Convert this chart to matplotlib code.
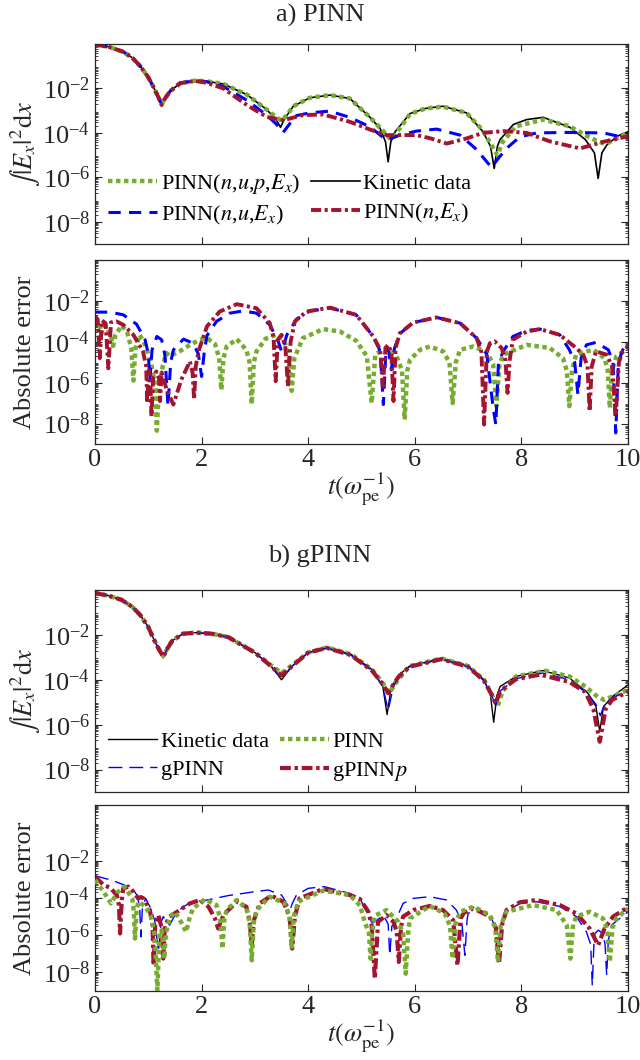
import numpy as np
import matplotlib.pyplot as plt
from matplotlib.ticker import FixedLocator, LogLocator, NullFormatter, LogFormatterMathtext

plt.rcParams['font.family'] = 'serif'
plt.rcParams['font.serif'] = ['Liberation Serif', 'DejaVu Serif']
plt.rcParams['mathtext.fontset'] = 'stix'

# values are log10 of the plotted quantity
# ---- a) PINN, field energy
t_kin_a = [0, 0.25, 0.53, 0.7, 0.85, 1.0, 1.1, 1.2, 1.25, 1.3, 1.41, 1.6, 1.88, 2.1, 2.41, 2.85, 3.22, 3.4, 3.48,
           3.56, 3.72, 4.03, 4.41, 4.78, 5.16, 5.35, 5.45, 5.5, 5.55, 5.63, 5.91, 6.2, 6.53, 6.97, 7.28, 7.42, 7.49,
           7.55, 7.6, 7.85, 8.1, 8.41, 8.91, 9.2, 9.37, 9.44, 9.51, 9.6, 9.8, 10]
kin_a = [-0.03, -0.12, -0.35, -0.62, -1.0, -1.5, -1.95, -2.45, -2.75, -2.5, -2.12, -1.76, -1.65, -1.68, -1.8, -2.28,
         -2.95, -3.4, -3.75, -3.35, -2.8, -2.42, -2.3, -2.45, -3.3, -3.8, -4.4, -5.3, -4.4, -3.95, -3.13, -2.9, -2.8,
         -3.1, -3.95, -4.6, -5.6, -4.6, -4.3, -3.62, -3.4, -3.3, -3.75, -4.3, -4.9, -6.05, -4.9, -4.55, -4.15, -3.95]

t_nupe_a = [0, 0.25, 0.53, 0.7, 0.85, 1.0, 1.1, 1.2, 1.25, 1.3, 1.41, 1.6, 1.88, 2.1, 2.41, 2.85, 3.22, 3.4, 3.5,
            3.6, 3.72, 4.03, 4.41, 4.78, 5.16, 5.4, 5.55, 5.7, 5.91, 6.2, 6.53, 6.97, 7.28, 7.45, 7.55, 7.65, 7.9,
            8.41, 8.9, 9.2, 9.45, 9.58, 9.75, 10]
nupe_a = [-0.03, -0.12, -0.35, -0.62, -1.0, -1.5, -1.95, -2.45, -2.72, -2.5, -2.12, -1.76, -1.65, -1.68, -1.8, -2.28,
          -2.95, -3.3, -3.45, -3.2, -2.8, -2.42, -2.3, -2.45, -3.3, -3.9, -4.3, -3.85, -3.15, -2.9, -2.82, -3.1,
          -3.9, -4.6, -5.0, -4.4, -3.7, -3.4, -3.7, -4.1, -4.4, -4.5, -4.3, -4.0]

t_nue_a = [0, 0.25, 0.53, 0.7, 0.85, 1.0, 1.1, 1.2, 1.25, 1.3, 1.41, 1.6, 1.88, 2.1, 2.41, 2.85, 3.22, 3.4, 3.53,
           3.65, 3.78, 4.03, 4.4, 4.78, 5.16, 5.47, 5.72, 6.03, 6.41, 6.85, 7.16, 7.35, 7.44, 7.55, 7.72, 7.97,
           8.29, 8.85, 9.54, 10]
nue_a = [-0.03, -0.12, -0.35, -0.62, -1.0, -1.5, -1.95, -2.45, -2.75, -2.5, -2.12, -1.76, -1.65, -1.7, -1.92,
         -2.53, -3.2, -3.6, -3.98, -3.6, -3.22, -3.1, -3.02, -3.3, -3.73, -4.33, -4.1, -3.92, -3.83, -4.1, -4.75,
         -5.3, -5.55, -5.2, -4.7, -4.18, -4.0, -3.98, -4.0, -4.25]

t_ne_a = [0, 0.25, 0.53, 0.7, 0.85, 1.0, 1.1, 1.2, 1.25, 1.3, 1.41, 1.6, 1.88, 2.1, 2.41, 2.85, 3.22, 3.53, 3.9,
          4.28, 4.78, 5.16, 5.47, 6.03, 6.3, 6.6, 6.97, 7.28, 7.66, 8.1, 8.53, 9.1, 9.54, 10]
ne_a = [-0.03, -0.12, -0.35, -0.62, -1.0, -1.5, -1.95, -2.45, -2.75, -2.5, -2.12, -1.76, -1.66, -1.75, -2.0,
        -2.75, -3.28, -3.43, -3.2, -3.17, -3.5, -3.85, -4.1, -4.1, -4.25, -4.48, -4.25, -4.0, -3.92, -4.0, -4.38,
        -4.7, -4.4, -4.15]

# ---- a) PINN, absolute error
t_err_nupe_a = [0, 0.08, 0.12, 0.16, 0.22, 0.3, 0.34, 0.38, 0.5, 0.6, 0.68, 0.72, 0.76, 0.84, 0.95, 1.05, 1.12,
                1.16, 1.2, 1.27, 1.34, 1.4, 1.6, 1.78, 1.97, 2.1, 2.25, 2.33, 2.37, 2.41, 2.47, 2.66, 2.84, 2.9,
                2.94, 2.98, 3.03, 3.2, 3.41, 3.55, 3.64, 3.69, 3.74, 3.9, 4.28, 4.6, 4.9, 5.1, 5.19, 5.26, 5.47,
                5.66, 5.76, 5.81, 5.86, 5.91, 6.1, 6.28, 6.53, 6.65, 6.71, 6.77, 6.85, 7.1, 7.35, 7.47, 7.53, 7.59,
                7.66, 8.1, 8.53, 8.78, 8.85, 8.9, 8.95, 9.03, 9.35, 9.56, 9.62, 9.66, 9.7, 9.78, 10]
err_nupe_a = [-2.85, -3.1, -3.6, -3.2, -3.3, -3.75, -4.2, -3.7, -3.2, -3.5, -4.3, -5.9, -4.3, -3.66, -4.2, -5.0,
              -6.0, -8.35, -6.2, -5.2, -4.55, -4.7, -4.45, -4.15, -3.9, -3.82, -4.1, -4.8, -6.35, -4.8, -4.23,
              -3.87, -4.4, -5.0, -7.05, -5.0, -4.47, -3.85, -3.65, -3.9, -4.8, -6.4, -4.8, -3.82, -3.38, -3.5,
              -3.95, -4.7, -7.0, -4.6, -4.31, -4.72, -5.4, -7.8, -5.4, -4.88, -4.39, -4.23, -4.47, -5.0, -7.0,
              -5.0, -4.39, -4.23, -4.5, -5.1, -7.15, -5.1, -4.63, -4.15, -4.3, -4.8, -5.4, -7.15, -5.4, -4.6,
              -4.39, -4.8, -5.4, -7.24, -5.4, -4.72, -4.31]

t_err_nue_a = [0, 0.28, 0.53, 0.78, 0.94, 1.0, 1.03, 1.07, 1.16, 1.25, 1.31, 1.37, 1.42, 1.47, 1.66, 1.84, 1.94,
               2.0, 2.05, 2.1, 2.28, 2.53, 2.78, 3.03, 3.28, 3.44, 3.5, 3.56, 3.6, 3.78, 4.03, 4.41, 4.9, 5.22,
               5.35, 5.41, 5.46, 5.5, 5.56, 5.62, 5.72, 5.97, 6.41, 6.85, 7.16, 7.35, 7.47, 7.52, 7.57, 7.66,
               7.84, 8.1, 8.35, 8.72, 8.9, 9.0, 9.06, 9.12, 9.22, 9.4, 9.63, 9.72, 9.77, 9.82, 9.9, 10]
err_nue_a = [-2.55, -2.55, -2.68, -3.14, -3.9, -4.6, -5.85, -4.4, -3.74, -3.9, -4.63, -7.15, -5.0, -4.4, -3.87,
             -4.07, -4.6, -5.7, -4.5, -3.7, -3.0, -2.6, -2.49, -2.6, -3.17, -4.0, -4.47, -4.0, -3.66, -2.9, -2.5,
             -2.35, -2.68, -3.74, -4.45, -7.07, -4.4, -4.3, -5.37, -4.3, -3.6, -3.06, -2.81, -3.09, -3.82, -4.6,
             -7.24, -8.05, -5.0, -4.47, -3.74, -3.45, -3.38, -3.66, -4.39, -5.0, -6.59, -4.8, -4.15, -4.03, -4.39,
             -5.0, -8.46, -5.0, -4.4, -4.0]

t_err_ne_a = [0, 0.05, 0.09, 0.13, 0.2, 0.25, 0.3, 0.4, 0.53, 0.72, 0.9, 0.96, 0.98, 1.01, 1.04, 1.06, 1.09,
              1.15, 1.2, 1.22, 1.25, 1.34, 1.47, 1.62, 1.78, 1.83, 1.86, 1.89, 1.95, 2.1, 2.34, 2.66, 3.03, 3.28,
              3.35, 3.39, 3.43, 3.5, 3.57, 3.62, 3.67, 3.75, 3.97, 4.41, 4.9, 5.22, 5.35, 5.4, 5.45, 5.5, 5.56,
              5.6, 5.64, 5.72, 5.97, 6.41, 6.85, 7.16, 7.25, 7.3, 7.35, 7.41, 7.5, 7.63, 7.7, 7.74, 7.78, 7.84,
              8.1, 8.35, 8.72, 9.03, 9.16, 9.24, 9.28, 9.32, 9.4, 9.6, 9.7, 9.77, 9.83, 9.9, 10]
err_ne_a = [-2.76, -2.9, -4.8, -2.95, -3.1, -5.3, -3.05, -3.0, -3.17, -3.66, -4.47, -5.2, -7.0, -5.4, -6.0,
            -7.65, -5.8, -5.45, -5.8, -6.9, -5.5, -6.3, -7.07, -5.85, -4.96, -5.5, -6.83, -5.2, -4.4, -3.25,
            -2.52, -2.16, -2.36, -3.09, -3.8, -5.93, -3.9, -3.66, -4.2, -6.18, -4.0, -3.0, -2.52, -2.33, -2.68,
            -3.74, -4.39, -6.18, -4.3, -4.15, -4.5, -6.9, -4.3, -3.58, -3.06, -2.81, -3.09, -3.82, -4.5, -8.05,
            -4.5, -4.07, -3.98, -4.31, -4.9, -6.5, -4.9, -3.9, -3.5, -3.38, -3.66, -4.31, -4.63, -5.2, -7.4,
            -5.2, -4.47, -4.63, -5.2, -7.64, -5.0, -4.47, -4.23]

# ---- b) gPINN, field energy
t_kin_b = [0, 0.25, 0.5, 0.7, 0.85, 1.0, 1.1, 1.2, 1.28, 1.36, 1.45, 1.65, 1.9, 2.2, 2.5, 3.0, 3.3, 3.42, 3.5,
           3.58, 3.7, 4.0, 4.35, 4.8, 5.2, 5.4, 5.48, 5.56, 5.7, 5.9, 6.5, 7.0, 7.3, 7.42, 7.48, 7.54, 7.6, 7.9,
           8.4, 8.9, 9.25, 9.4, 9.47, 9.54, 9.7, 10]
kin_b = [-0.14, -0.25, -0.44, -0.75, -1.12, -1.65, -2.18, -2.65, -3.02, -2.6, -2.26, -1.95, -1.9, -1.95, -2.1,
         -2.79, -3.39, -3.75, -4.0, -3.75, -3.39, -2.79, -2.56, -2.86, -3.55, -4.3, -5.55, -4.3, -3.8, -3.39,
         -3.05, -3.39, -4.0, -4.7, -5.89, -4.7, -4.3, -3.85, -3.59, -3.92, -4.6, -5.2, -6.3, -5.2, -4.76, -4.23]

t_pinn_b = [0, 0.25, 0.5, 0.7, 0.85, 1.0, 1.1, 1.2, 1.28, 1.36, 1.45, 1.65, 1.9, 2.2, 2.5, 3.0, 3.3, 3.5, 3.7,
            4.0, 4.35, 4.8, 5.2, 5.4, 5.52, 5.64, 5.9, 6.5, 7.0, 7.3, 7.45, 7.55, 7.65, 7.9, 8.45, 8.9, 9.2, 9.4,
            9.55, 9.75, 10]
pinn_b = [-0.14, -0.25, -0.44, -0.75, -1.12, -1.65, -2.18, -2.63, -2.95, -2.6, -2.26, -1.95, -1.9, -1.95, -2.1,
          -2.79, -3.35, -3.7, -3.35, -2.79, -2.56, -2.86, -3.55, -4.15, -4.6, -4.15, -3.39, -3.05, -3.39, -4.0,
          -4.7, -5.2, -4.5, -3.85, -3.6, -3.85, -4.3, -4.7, -4.9, -4.7, -4.45]

t_gpinn_b = [0, 0.25, 0.5, 0.7, 0.85, 1.0, 1.1, 1.2, 1.28, 1.36, 1.45, 1.65, 1.9, 2.2, 2.5, 3.0, 3.3, 3.42, 3.5,
             3.58, 3.7, 4.0, 4.35, 4.8, 5.2, 5.4, 5.5, 5.6, 5.7, 5.9, 6.5, 7.0, 7.3, 7.44, 7.52, 7.6, 7.9, 8.4,
             8.9, 9.25, 9.4, 9.48, 9.56, 9.7, 10]
gpinn_b = [-0.14, -0.25, -0.44, -0.75, -1.12, -1.65, -2.18, -2.65, -2.98, -2.6, -2.26, -1.95, -1.9, -1.95, -2.1,
           -2.79, -3.39, -3.7, -3.85, -3.7, -3.39, -2.79, -2.58, -2.9, -3.6, -4.3, -5.36, -4.3, -3.85, -3.42,
           -3.08, -3.42, -4.05, -4.7, -5.14, -4.5, -3.95, -3.7, -4.0, -4.65, -5.1, -5.6, -5.1, -4.8, -4.5]

t_gpinnp_b = [0, 0.25, 0.5, 0.7, 0.85, 1.0, 1.1, 1.2, 1.28, 1.36, 1.45, 1.65, 1.9, 2.2, 2.5, 3.0, 3.3, 3.42,
              3.5, 3.58, 3.7, 4.0, 4.35, 4.8, 5.2, 5.4, 5.5, 5.6, 5.7, 5.9, 6.5, 7.0, 7.3, 7.44, 7.52, 7.6, 7.9,
              8.35, 8.9, 9.2, 9.35, 9.47, 9.58, 9.7, 10]
gpinnp_b = [-0.14, -0.25, -0.44, -0.75, -1.12, -1.65, -2.18, -2.65, -2.98, -2.6, -2.26, -1.95, -1.9, -1.95, -2.1,
            -2.79, -3.39, -3.65, -3.8, -3.65, -3.39, -2.79, -2.58, -2.9, -3.6, -4.2, -4.6, -4.2, -3.85, -3.42,
            -3.08, -3.42, -4.05, -4.65, -5.06, -4.5, -3.97, -3.77, -4.1, -4.55, -5.3, -6.76, -5.3, -4.9, -4.53]

# ---- b) gPINN, absolute error
t_err_pinn_b = [0, 0.16, 0.3, 0.42, 0.55, 0.7, 0.73, 0.75, 0.78, 0.82, 0.95, 1.05, 1.12, 1.17, 1.21, 1.25, 1.28,
                1.3, 1.33, 1.4, 1.5, 1.63, 1.71, 1.78, 1.84, 2.06, 2.28, 2.35, 2.39, 2.43, 2.47, 2.66, 2.84, 2.9,
                2.94, 2.98, 3.03, 3.28, 3.56, 3.65, 3.69, 3.73, 3.81, 4.28, 4.78, 4.97, 5.06, 5.14, 5.17, 5.2,
                5.25, 5.47, 5.69, 5.78, 5.83, 5.88, 5.91, 6.28, 6.56, 6.66, 6.71, 6.76, 6.85, 7.1, 7.41, 7.51,
                7.56, 7.61, 7.72, 8.22, 8.66, 8.85, 8.92, 8.97, 9.03, 9.28, 9.53, 9.61, 9.66, 9.71, 9.78, 10]
err_pinn_b = [-3.03, -3.66, -4.29, -3.7, -3.39, -4.02, -4.8, -6.18, -4.6, -4.2, -4.47, -5.0, -6.0, -8.97, -6.0,
              -5.73, -6.3, -7.26, -5.9, -5.1, -4.74, -5.37, -5.82, -5.0, -4.56, -4.07, -4.38, -5.1, -6.72, -5.1,
              -4.65, -4.11, -4.56, -5.3, -7.35, -5.3, -4.65, -3.93, -4.29, -5.0, -6.72, -5.0, -4.2, -3.6, -3.84,
              -4.4, -5.28, -5.9, -7.26, -5.8, -4.95, -4.65, -5.28, -5.9, -8.07, -5.7, -5.1, -4.43, -4.83, -5.5,
              -7.26, -5.4, -4.74, -4.47, -4.92, -5.6, -7.44, -5.5, -4.74, -4.38, -4.65, -5.46, -7.26, -5.4, -5.0,
              -4.74, -5.1, -5.7, -7.44, -5.6, -5.1, -4.56]

t_err_gpinn_b = [0, 0.3, 0.55, 0.72, 0.8, 0.84, 0.86, 0.89, 0.95, 1.03, 1.12, 1.19, 1.24, 1.28, 1.4, 1.5, 1.65,
                 1.84, 2.1, 2.5, 3.0, 3.25, 3.5, 3.62, 3.66, 3.7, 3.78, 4.0, 4.3, 4.78, 4.97, 5.13, 5.19, 5.25,
                 5.41, 5.5, 5.53, 5.57, 5.6, 5.78, 5.97, 6.28, 6.6, 6.78, 6.88, 6.94, 6.98, 7.0, 7.16, 7.41, 7.5,
                 7.56, 7.62, 7.72, 7.97, 8.28, 8.72, 9.03, 9.22, 9.3, 9.33, 9.36, 9.38, 9.44, 9.53, 9.57, 9.6,
                 9.63, 9.69, 10]
err_gpinn_b = [-2.81, -3.03, -3.3, -3.57, -3.9, -4.6, -6.09, -4.5, -4.02, -4.47, -5.2, -6.9, -5.3, -5.0, -5.46,
               -4.92, -4.47, -4.2, -4.11, -3.87, -3.66, -3.57, -3.84, -4.4, -4.65, -4.3, -3.84, -3.48, -3.39,
               -3.75, -4.02, -4.92, -5.3, -5.28, -4.92, -5.4, -7.08, -5.5, -5.46, -4.29, -4.02, -3.93, -4.11,
               -4.65, -5.28, -7.08, -5.2, -4.83, -4.56, -4.92, -5.5, -7.44, -5.4, -4.7, -4.3, -4.2, -4.45, -5.0,
               -5.82, -6.5, -8.7, -6.5, -5.91, -5.73, -5.91, -6.5, -8.16, -6.3, -5.46, -4.74]

t_err_gpinnp_b = [0, 0.16, 0.28, 0.41, 0.45, 0.47, 0.5, 0.53, 0.63, 0.72, 0.81, 0.86, 0.91, 1.03, 1.08, 1.1, 1.13,
                  1.19, 1.25, 1.28, 1.31, 1.4, 1.59, 1.78, 1.97, 2.13, 2.25, 2.31, 2.41, 2.66, 2.84, 2.9, 2.94,
                  2.98, 3.09, 3.31, 3.53, 3.65, 3.7, 3.75, 3.84, 4.28, 4.78, 4.97, 5.13, 5.19, 5.25, 5.31, 5.47,
                  5.6, 5.66, 5.7, 5.74, 5.78, 5.97, 6.28, 6.53, 6.72, 6.8, 6.86, 6.92, 7.1, 7.41, 7.52, 7.58, 7.64,
                  7.72, 7.97, 8.28, 8.72, 9.03, 9.28, 9.44, 9.56, 9.72, 10]
err_gpinnp_b = [-2.85, -3.3, -3.44, -3.84, -4.4, -5.91, -4.2, -3.48, -3.39, -3.66, -4.02, -3.95, -4.02, -4.65,
                -5.5, -7.62, -5.4, -4.92, -5.6, -7.26, -5.5, -5.0, -4.65, -4.29, -4.11, -4.47, -5.1, -5.64, -4.92,
                -4.2, -4.47, -5.2, -6.5, -5.2, -4.29, -3.87, -4.2, -5.0, -6.72, -5.0, -4.02, -3.51, -3.84, -4.05,
                -4.74, -5.46, -8.34, -5.28, -4.92, -5.28, -5.8, -7.44, -5.6, -5.0, -4.65, -4.43, -4.65, -5.19,
                -7.62, -5.1, -4.8, -4.56, -5.0, -5.6, -7.53, -5.4, -4.65, -4.23, -4.11, -4.38, -4.83, -5.64, -6.54,
                -5.64, -5.0, -4.5]

green = '#77AC30'
red = '#A2142F'
blue = '#0000FF'
axc = '#262626'


def p(e):
    return np.power(10.0, np.asarray(e, dtype=float))


dot = (0, (1, 0.8))
dashdot = (0, (2.6, 0.9, 0.8, 0.9))

fig = plt.figure(figsize=(6.4, 10.6), dpi=100)
H = 1060.0
W = 640.0


def make_ax(top, bottom, ytop):
    ax = fig.add_axes([95 / W, 1 - bottom / H, 533 / W, (bottom - top) / H])
    ax.set_yscale('log')
    ax.set_xlim(0, 10)
    ax.set_ylim(1e-9, ytop)
    ax.yaxis.set_major_locator(FixedLocator([1e-8, 1e-6, 1e-4, 1e-2]))
    ax.yaxis.set_major_formatter(LogFormatterMathtext())
    ax.yaxis.set_minor_locator(LogLocator(base=10, subs=np.arange(2, 10), numticks=100))
    ax.yaxis.set_minor_formatter(NullFormatter())
    ax.set_xticks([0, 2, 4, 6, 8, 10])
    ax.tick_params(which='both', direction='in', top=True, right=True, colors=axc, labelsize=19)
    ax.tick_params(which='major', length=5, width=0.8)
    ax.tick_params(which='minor', length=2.5, width=0.6)
    for s in ax.spines.values():
        s.set_color(axc)
        s.set_linewidth(0.9)
    return ax


ax1 = make_ax(44, 244, 1e0)
ax2 = make_ax(260, 444, 1e0)
ax3 = make_ax(590, 792, 1e0)
ax4 = make_ax(805, 991, 1e1)

# a) fields
k1, = ax1.plot(t_kin_a, p(kin_a), color='k', lw=1.2, label='Kinetic data')
g1, = ax1.plot(t_nupe_a, p(nupe_a), color=green, lw=3.2, ls=dot, dash_capstyle='butt',
               label='PINN($n$,$u$,$p$,$E_x$)')
b1, = ax1.plot(t_nue_a, p(nue_a), color=blue, lw=2.2, ls=(0, (4, 2.7)), label='PINN($n$,$u$,$E_x$)')
r1, = ax1.plot(t_ne_a, p(ne_a), color=red, lw=2.8, ls=dashdot, label='PINN($n$,$E_x$)')
ax1.legend(handles=[g1, b1, k1, r1], ncol=2, frameon=False, loc='lower left', fontsize=16,
           handlelength=2.2, handletextpad=0.15, columnspacing=0.5, labelspacing=0.35,
           borderaxespad=0.2, bbox_to_anchor=(0.0, 0.02))
ax1.set_xticklabels([])
ax1.set_ylabel(r'$\int|E_x|^2\mathrm{d}x$', fontsize=19, color=axc)
ax1.yaxis.set_label_coords(-0.1, 0.5)

# a) errors
ax2.plot(t_err_nupe_a, p(err_nupe_a), color=green, lw=3.2, ls=dot, dash_capstyle='butt')
ax2.plot(t_err_nue_a, p(err_nue_a), color=blue, lw=2.2, ls=(0, (4, 2.7)))
ax2.plot(t_err_ne_a, p(err_ne_a), color=red, lw=2.8, ls=dashdot)
ax2.set_ylabel('Absolute error', fontsize=19, color=axc)
ax2.yaxis.set_label_coords(-0.11, 0.5)
ax2.set_xlabel(r'$t(\omega_{\mathrm{pe}}^{-1})$', fontsize=19, color=axc, labelpad=0)

# b) fields
k3, = ax3.plot(t_kin_b, p(kin_b), color='k', lw=1.0, label='Kinetic data')
g3, = ax3.plot(t_pinn_b, p(pinn_b), color=green, lw=3.2, ls=dot, dash_capstyle='butt', label='PINN')
b3, = ax3.plot(t_gpinn_b, p(gpinn_b), color=blue, lw=1.0, ls=(0, (10, 5)), label='gPINN')
r3, = ax3.plot(t_gpinnp_b, p(gpinnp_b), color=red, lw=3.0, ls=dashdot, label='gPINN$p$')
ax3.legend(handles=[k3, b3, g3, r3], ncol=2, frameon=False, loc='lower left', fontsize=16,
           handlelength=2.2, handletextpad=0.15, columnspacing=0.5, labelspacing=0.35,
           borderaxespad=0.2, bbox_to_anchor=(0.0, -0.02))
ax3.set_xticklabels([])
ax3.set_ylabel(r'$\int|E_x|^2\mathrm{d}x$', fontsize=19, color=axc)
ax3.yaxis.set_label_coords(-0.1, 0.5)

# b) errors
ax4.plot(t_err_pinn_b, p(err_pinn_b), color=green, lw=3.2, ls=dot, dash_capstyle='butt', zorder=3)
ax4.plot(t_err_gpinn_b, p(err_gpinn_b), color=blue, lw=1.0, ls=(0, (10, 5)), zorder=2)
ax4.plot(t_err_gpinnp_b, p(err_gpinnp_b), color=red, lw=3.0, ls=dashdot, zorder=2.5)
ax4.set_ylabel('Absolute error', fontsize=19, color=axc)
ax4.yaxis.set_label_coords(-0.11, 0.5)
ax4.set_xlabel(r'$t(\omega_{\mathrm{pe}}^{-1})$', fontsize=19, color=axc, labelpad=0)

fig.text(0.5, 1 - 15 / H, 'a) PINN', ha='center', va='center', fontsize=19, color=axc)
fig.text(0.5, 1 - 556 / H, 'b) gPINN', ha='center', va='center', fontsize=19, color=axc)

fig.savefig('out.png', dpi=100)
